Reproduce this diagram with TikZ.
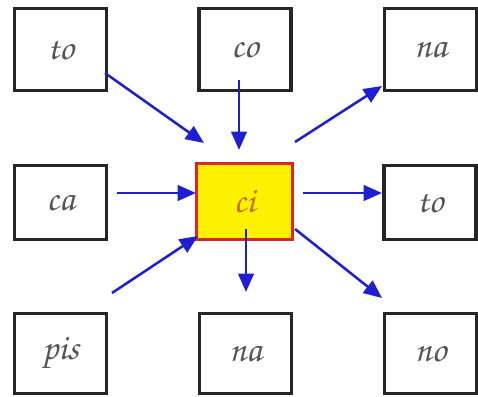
\documentclass[tikz,border=0pt]{standalone}
\usepackage[T1,TU]{fontenc}
\usetikzlibrary{arrows.meta}
\definecolor{inkgray}{RGB}{85,85,85}
\definecolor{linkblue}{RGB}{30,30,210}
\definecolor{focusred}{RGB}{225,35,30}
\definecolor{focusink}{RGB}{195,110,20}
\newcommand{\cursive}{\fontencoding{T1}\fontfamily{pzc}\fontseries{m}\fontshape{it}\selectfont}
\tikzset{
  card/.style={draw=black!85,line width=2.4pt,fill=white,minimum width=2.3cm,inner sep=0pt,
    font=\cursive\fontsize{26}{30}\selectfont,text=inkgray},
  focus/.style={card,draw=focusred,fill=yellow,text=focusink,minimum width=2.4cm},
  link/.style={draw=linkblue,line width=1.8pt,-{Triangle[length=13pt,width=11pt]}},
}
\begin{document}
\begin{tikzpicture}[x=.025cm,y=-.025cm]
\useasboundingbox (0,0) rectangle (478,396);
% syllable cards
\node[card,minimum height=2.05cm] (to1) at (60.5,49.5) {to};
\node[card,minimum height=2.05cm] (co) at (245,49.5) {co};
\node[card,minimum height=2.05cm] (na1) at (430.5,49.5) {na};
\node[card,minimum height=1.85cm] (ca) at (60.5,202.5) {ca};
\node[focus,minimum height=1.9cm] (ci) at (244.5,201.5) {ci};
\node[card,minimum height=1.85cm] (to2) at (430,202.5) {to};
\node[card,minimum height=2cm] (pis) at (60.5,353.5) {pis};
\node[card,minimum height=2cm] (na2) at (245.5,353.5) {na};
\node[card,minimum height=2cm] (no) at (430.5,353.5) {no};
% arrow ends
\coordinate (tlA) at (105,73);   \coordinate (tlB) at (204,143);
\coordinate (tmA) at (239,80);   \coordinate (tmB) at (239,150);
\coordinate (trA) at (295,142);  \coordinate (trB) at (382,86);
\coordinate (mlA) at (117,193);  \coordinate (mlB) at (196,193);
\coordinate (mrA) at (303,193);  \coordinate (mrB) at (382,193);
\coordinate (blA) at (112,293);  \coordinate (blB) at (198,236);
\coordinate (bmA) at (246,229);  \coordinate (bmB) at (246,292);
\coordinate (brA) at (295,229);  \coordinate (brB) at (382,298);
\foreach \a/\b in {tlA/tlB,tmA/tmB,trA/trB,mlA/mlB,mrA/mrB,blA/blB,bmA/bmB,brA/brB}
  \draw[link] (\a) -- (\b);
\end{tikzpicture}
\end{document}
